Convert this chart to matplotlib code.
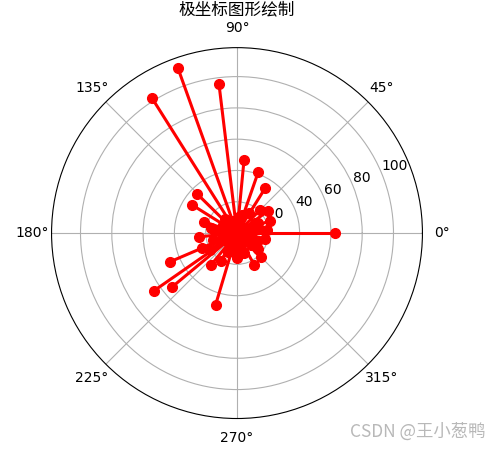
import numpy as np
import matplotlib
matplotlib.use("Agg")
import matplotlib.pyplot as plt

# angles in degrees, radius values
angles_deg = [109.7, 96.9, 122.2, 0.0, 84.5, 70.8, 57.9, 135.5, 147.9, 161.0,
              185.6, 203.2, 214.8, 219.7, 253.4, 230.9, 240.0, 289.8, 298.4, 314.3,
              324.0, 349.0, 5.7, 20.5, 45.0, 35.4, 203.0, 212.0,
              75.0, 150.0, 175.0, 260.0, 280.0, 340.0, 30.0, 110.0, 195.0, 270.0,
              10.0, 60.0, 90.0, 125.0, 165.0, 225.0, 250.0, 300.0, 330.0, 355.0,
              15.0, 50.0, 140.0, 185.0, 235.0, 310.0, 0.0, 100.0, 205.0, 285.0,
              25.0, 80.0, 130.0, 170.0, 245.0, 265.0, 320.0, 335.0]
radii = [112, 96, 102, 62.6, 46.8, 41.5, 33.7, 35.5, 33.7, 22.3,
         24.2, 46.6, 64.6, 53.7, 47.8, 26.3, 20.4, 13.8, 23.3, 21.7,
         16.8, 18.2, 19.5, 22.5, 20.8, 24.3, 24.4, 20.4,
         12, 10, 14, 12, 9, 11, 13, 8, 16, 16,
         14, 15, 7, 9, 6, 8, 5, 7, 9, 6,
         10, 5, 4, 8, 6, 5, 3, 6, 11, 4,
         15, 11, 12, 17, 13, 10, 12, 14]

title = "极坐标图形绘制"
watermark = "CSDN @王小葱鸭"

theta = np.deg2rad(angles_deg)

fig = plt.figure(figsize=(5.01, 4.49), dpi=100)
ax = fig.add_axes([0.1028, 0.0679, 0.7405, 0.826], projection="polar")

for t, r in zip(theta, radii):
    ax.plot([t, t], [0, r], "ro-", linewidth=2.2, markersize=7)

ax.set_rlim(0, 118.5)
ax.set_rticks([20, 40, 60, 80, 100])
ax.grid(True, color="#b0b0b0", linewidth=0.8)
ax.set_title(title, fontfamily=["Noto Sans CJK SC", "DejaVu Sans"], pad=5)

fig.text(0.97, 0.018, watermark, ha="right", va="bottom", fontsize=12.5,
         color="#b8b8b8", fontfamily=["Noto Sans CJK SC", "DejaVu Sans"])

fig.savefig("out.png", dpi=100)
